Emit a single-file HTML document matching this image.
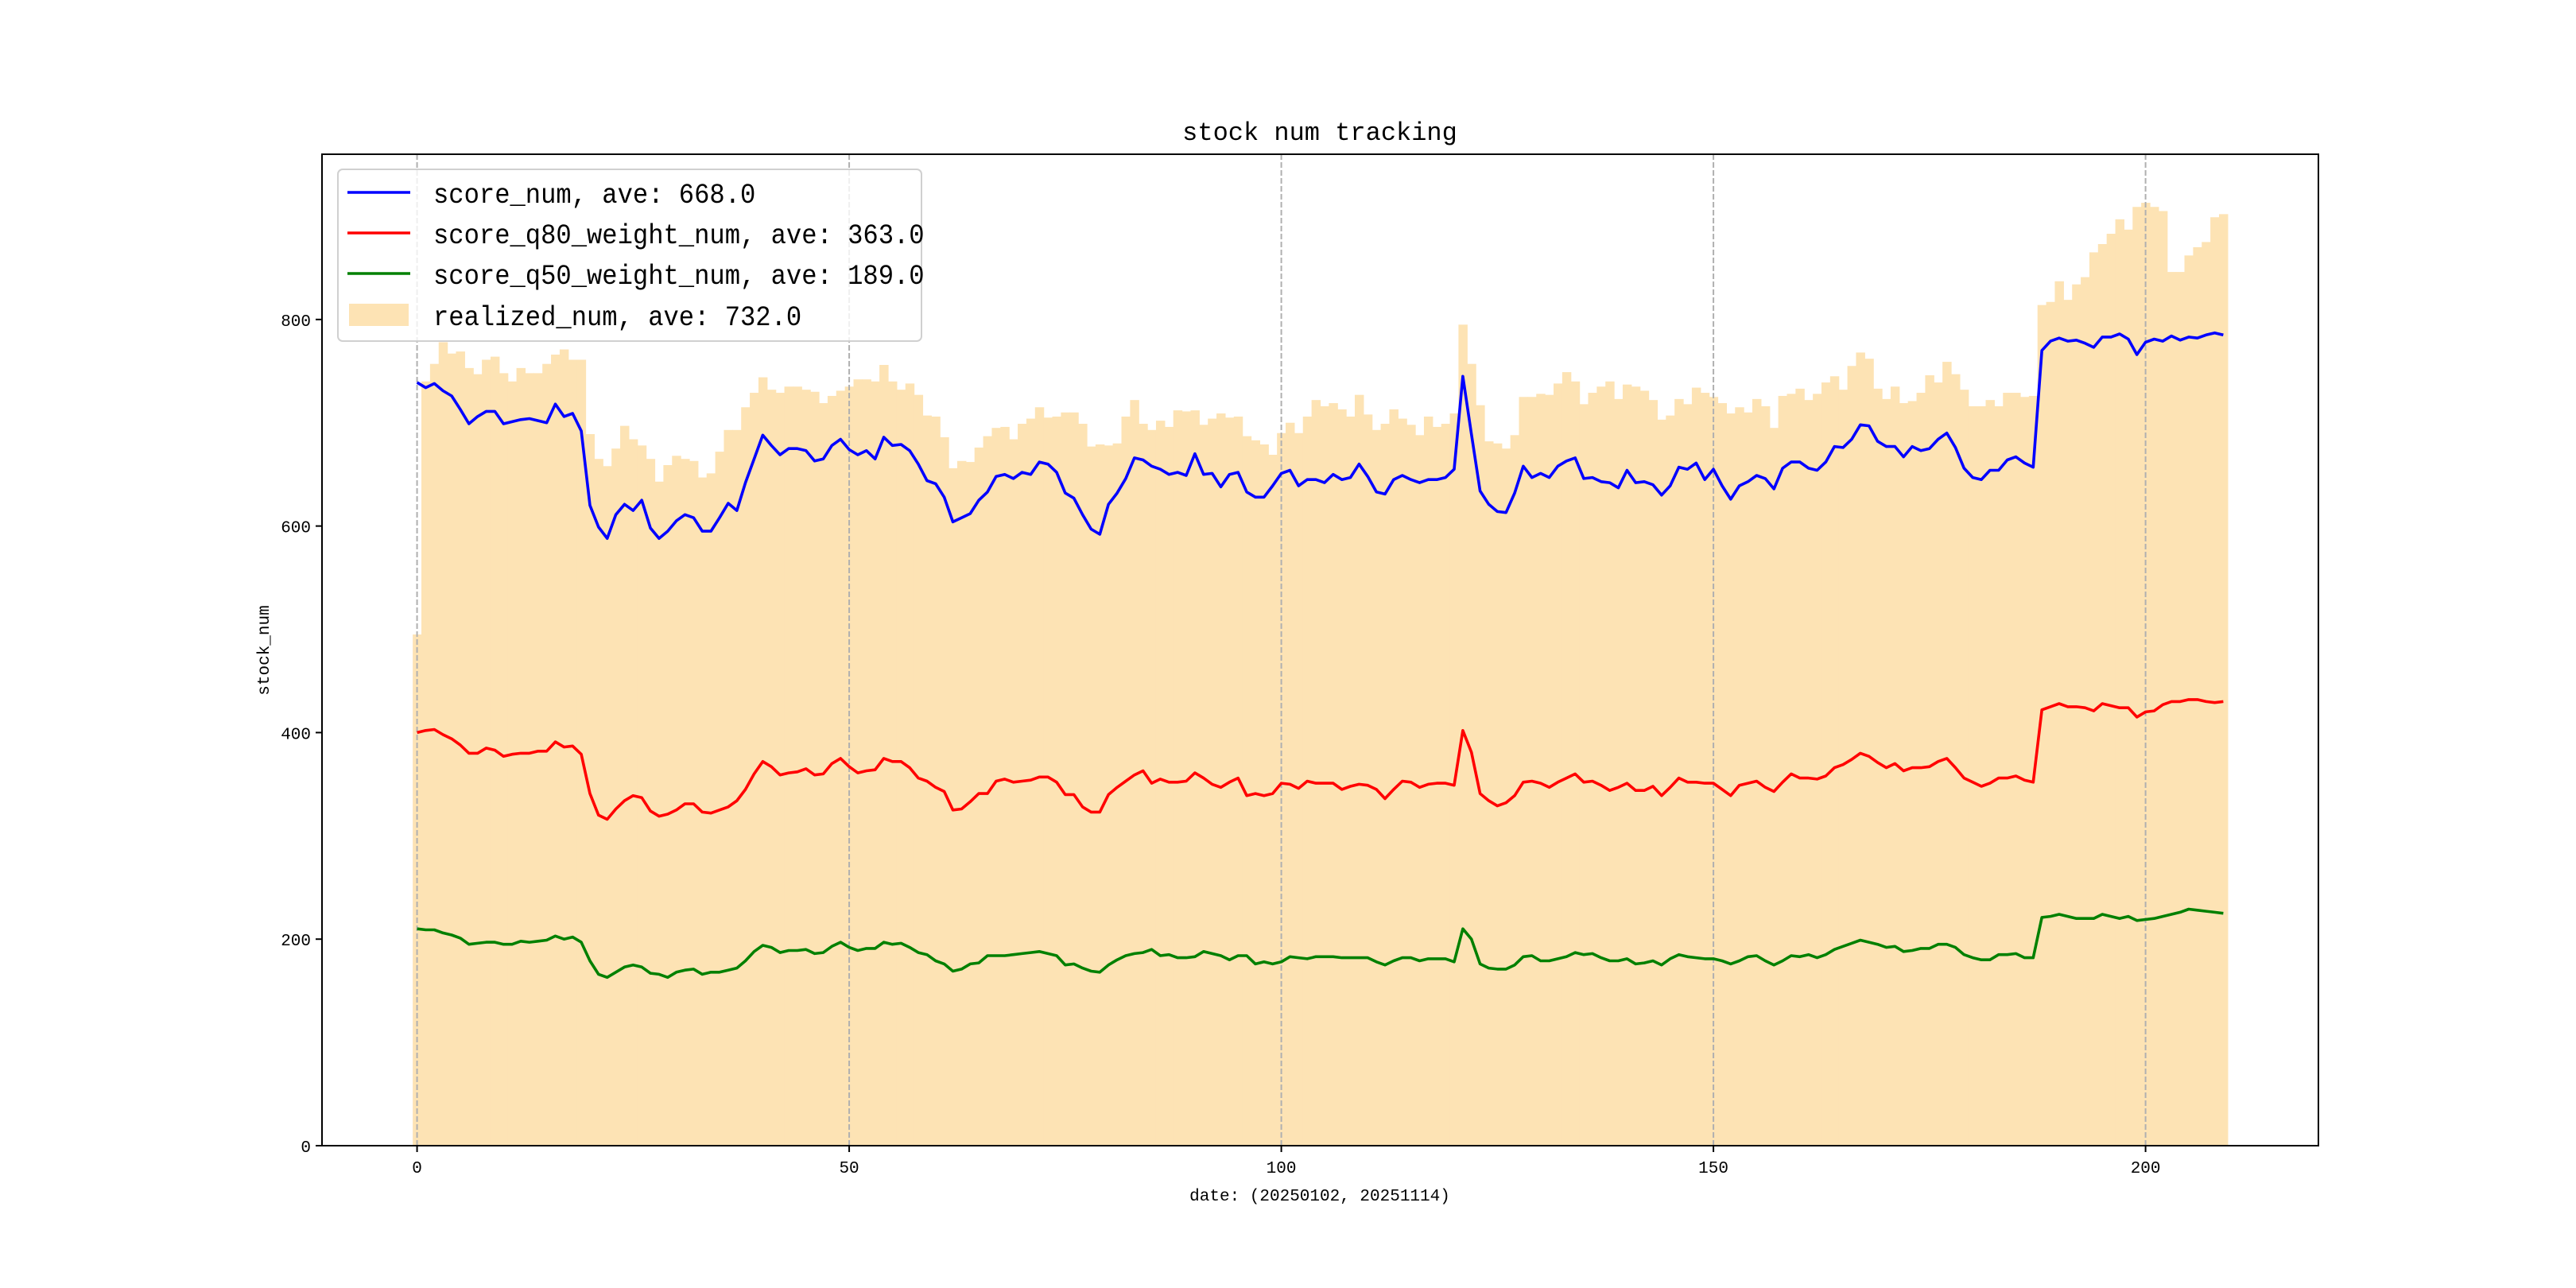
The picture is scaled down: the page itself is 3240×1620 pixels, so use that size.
<!DOCTYPE html>
<html><head><meta charset="utf-8"><title>stock num tracking</title>
<style>
html,body{margin:0;padding:0;background:#fff;}
svg{display:block;}
text{font-family:"Liberation Mono","WenQuanYi Zen Hei",monospace;fill:#000;}
</style></head>
<body>
<svg id="chart" width="3240" height="1620" viewBox="0 0 3240 1620" xmlns="http://www.w3.org/2000/svg">
<rect x="0" y="0" width="3240" height="1620" fill="#fff"/>
<text x="1660" y="176" font-size="32" text-anchor="middle">stock num tracking</text>
<g id="plot"></g>
<text x="1660" y="1510" font-size="21" text-anchor="middle">date: (20250102, 20251114)</text>
<text x="0" y="0" font-size="21" text-anchor="middle" transform="translate(338,818) rotate(-90)">stock_num</text>
</svg>
<script>
const realizedNum = [495,740,757,778,767,769,753,747,761,764,748,740,753,748,748,757,766,771,761,761,689,665,658,675,697,684,678,665,643,659,668,665,663,647,651,672,693,693,715,729,744,732,729,735,735,732,730,719,726,731,735,742,742,
740,756,740,
732,738,727,707,706,686,656,663,662,676,687,695,696,684,699,704,715,705,706,710,710,699,677,679,678,680,706,722,699,693,702,696,712,711,712,698,704,709,705,706,687,683,679,669,690,700,690,706,722,716,
719,713,706,727,708,693,699,713,704,698,688,706,696,699,709,795,757,717,682,680,675,688,725,725,728,727,738,749,740,718,729,735,740,723,737,735,731,722,703,707,723,718,734,729,725,719,709,715,710,723,716,695,726,
728,733,722,728,739,745,732,755,768,762,733,723,735,719,721,729,746,739,759,747,732,716,716,722,716,729,729,725,726,814,817,837,819,834,841,865,873,883,897,887,909,913,909,905,846,846,862,870,875,899,902];
const scoreNum = [739,734,738,731,726,713,699,706,711,711,699,701,703,704,702,700,718,706,709,692,620,599,588,611,621,615,625,598,588,595,605,611,608,595,595,608,622,615,642,665,688,678,669,675,675,673,663,665,678,684,674,669,673,
665,686,678,679,673,660,644,641,628,604,608,612,625,633,648,650,646,652,650,662,660,652,632,627,611,597,592,621,632,646,666,664,658,655,650,652,649,670,650,651,638,650,652,633,628,628,639,651,654,639,645,645,642,
650,645,647,660,648,633,631,645,649,645,642,645,645,647,655,745,689,634,621,614,613,632,658,647,651,647,658,663,666,646,647,643,642,637,654,642,643,640,630,639,657,655,661,645,655,639,626,639,643,649,646,636,656,
662,662,656,654,662,677,676,684,698,697,682,677,677,667,677,673,675,684,690,676,656,647,645,654,654,664,667,661,657,770,779,782,779,780,777,773,783,783,786,781,766,778,781,779,784,780,783,782,785,787,785];
const scoreQ80 = [400,402,403,398,394,388,380,380,385,383,377,379,380,380,382,382,391,386,387,379,341,320,316,326,334,339,337,324,319,321,325,331,331,323,322,325,328,334,345,360,372,367,359,361,362,365,359,360,370,375,367,361,363,
364,375,372,372,366,356,353,347,343,325,326,333,341,341,353,355,352,353,354,357,357,352,340,340,328,323,323,340,347,353,359,363,351,355,352,352,353,361,356,350,347,352,356,339,341,339,341,351,350,346,353,351,351,
351,345,348,350,349,345,336,345,353,352,347,350,351,351,349,402,381,341,334,329,332,339,352,353,351,347,352,356,360,352,353,349,344,347,351,344,344,348,339,347,356,352,352,351,351,345,339,349,351,353,347,343,352,
360,356,356,355,358,366,369,374,380,377,371,366,370,363,366,366,367,372,375,366,356,352,348,351,356,356,358,354,352,422,425,428,425,425,424,421,428,426,424,424,415,420,421,427,430,430,432,432,430,429,430];
const scoreQ50 = [210,209,209,206,204,201,195,196,197,197,195,195,198,197,198,199,203,200,202,197,179,166,163,168,173,175,173,167,166,163,168,170,171,166,168,168,170,172,179,188,194,192,187,189,189,190,186,187,193,197,192,189,191,
191,197,195,196,192,187,185,179,176,169,171,176,177,184,184,184,185,186,187,188,186,184,175,176,172,169,168,175,180,184,186,187,190,184,185,182,182,183,188,186,184,180,184,184,176,178,176,178,183,182,181,183,183,
183,182,182,182,182,178,175,179,182,182,179,181,181,181,178,210,200,176,172,171,171,175,183,184,179,179,181,183,187,185,186,182,179,179,181,176,177,179,175,181,185,183,182,181,181,179,176,179,183,184,179,175,179,
184,183,185,182,185,190,193,196,199,197,195,192,193,188,189,191,191,195,195,192,185,182,180,180,185,185,186,182,182,221,222,224,222,220,220,220,224,222,220,222,218,219,220,222,224,226,229,228,227,226,225];
const xTickValues = [0,50,100,150,200];
const yTickValues = [0,200,400,600,800];
const legendLabels = ["score_num, ave: 668.0","score_q80_weight_num, ave: 363.0","score_q50_weight_num, ave: 189.0","realized_num, ave: 732.0"];

const NS = "http://www.w3.org/2000/svg";
const AX = {left:405, right:2916, top:194, bottom:1441};
const XMIN = -11, XMAX = 220;
const YMIN = 0, YMAX = 960;
function xs(v){ return AX.left + (v - XMIN) / (XMAX - XMIN) * (AX.right - AX.left); }
function ys(v){ return AX.bottom - (v - YMIN) / (YMAX - YMIN) * (AX.bottom - AX.top); }
function mk(tag, attrs, parent){
  const el = document.createElementNS(NS, tag);
  for (const k in attrs) el.setAttribute(k, attrs[k]);
  parent.appendChild(el);
  return el;
}
const plot = document.getElementById('plot');

const barsG = mk('g', {}, plot);


realizedNum.forEach((v, i) => {
  const x0 = xs(i - 0.5), x1 = xs(i + 0.5);
  const r = mk('rect', {x: x0, y: ys(v), width: x1 - x0 + 0.6, height: ys(0) - ys(v), fill: '#fde3b4'}, barsG);
  
  
});

xTickValues.forEach(t => {
  const g = mk('line', {x1: xs(t), x2: xs(t), y1: AX.top, y2: AX.bottom, stroke: '#b0b0b0', 'stroke-width': 2, 'stroke-dasharray': '7,3'}, plot);
  
  
});

function drawLine(arr, color, name){
  const pts = arr.map((v, i) => xs(i).toFixed(1) + ',' + ys(v).toFixed(1)).join(' ');
  const p = mk('polyline', {points: pts, fill: 'none', stroke: color, 'stroke-width': 3.6, 'stroke-linejoin': 'round'}, plot);
  
  
}
drawLine(scoreNum, '#0000ff', 'score-num-line');
drawLine(scoreQ80, '#ff0000', 'score-q80-line');
drawLine(scoreQ50, '#008000', 'score-q50-line');

const frame = mk('rect', {x: AX.left, y: AX.top, width: AX.right - AX.left, height: AX.bottom - AX.top, fill: 'none', stroke: '#000', 'stroke-width': 2}, plot);



xTickValues.forEach(t => {
  const tk = mk('line', {x1: xs(t), x2: xs(t), y1: AX.bottom, y2: AX.bottom + 8, stroke: '#000', 'stroke-width': 2}, plot);
  
  
  const tx = mk('text', {x: xs(t), y: AX.bottom + 34, 'font-size': 21, 'text-anchor': 'middle'}, plot);
  tx.textContent = String(t);
  
  
});
yTickValues.forEach(t => {
  const tk = mk('line', {x1: AX.left - 8, x2: AX.left, y1: ys(t), y2: ys(t), stroke: '#000', 'stroke-width': 2}, plot);
  
  
  const tx = mk('text', {x: AX.left - 14, y: ys(t) + 8, 'font-size': 21, 'text-anchor': 'end'}, plot);
  tx.textContent = String(t);
  
  
});

const lg = mk('g', {}, plot);


const lbox = mk('rect', {x: 425, y: 213, width: 734, height: 216, rx: 6, fill: '#fff', 'fill-opacity': 0.8, stroke: '#d0d0d0', 'stroke-width': 2}, lg);


const rowY = [242, 293, 344, 396];
const colors = ['#0000ff', '#ff0000', '#008000'];
legendLabels.forEach((lab, k) => {
  if (k < 3) {
    const h = mk('line', {x1: 437, x2: 516, y1: rowY[k], y2: rowY[k], stroke: colors[k], 'stroke-width': 3.6}, lg);
    
    
  } else {
    const h = mk('rect', {x: 439, y: rowY[k] - 14, width: 75, height: 28, fill: '#fde3b4'}, lg);
    
    
  }
  const t = mk('text', {x: 545, y: rowY[k] + 13, 'font-size': 35, textLength: (lab.length * 19.3).toFixed(1), lengthAdjust: 'spacingAndGlyphs'}, lg);
  t.textContent = lab;
  
  
});
</script>
</body></html>
